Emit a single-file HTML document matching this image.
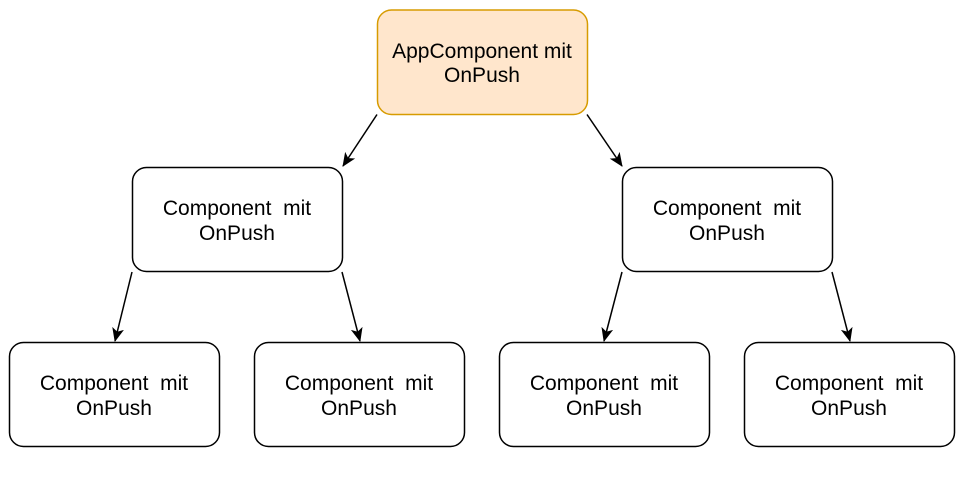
<!DOCTYPE html>
<html><head><meta charset="utf-8"><style>html,body{margin:0;padding:0;background:#fff}svg{display:block}text{white-space:pre}</style></head>
<body>
<svg width="965" height="492" viewBox="0 0 965 492" xmlns="http://www.w3.org/2000/svg" font-family="Liberation Sans, Arial, sans-serif" font-size="21" text-anchor="middle">
<defs><marker id="a" markerWidth="14" markerHeight="14" refX="13" refY="7" orient="auto" markerUnits="userSpaceOnUse" viewBox="0 0 14 14"><path d="M0,1 L14,7 L0,13 L3.5,7 z" fill="#000"/></marker></defs>
<g stroke="#000" stroke-width="1.5" fill="none">
<line x1="377" y1="114.5" x2="343" y2="166" marker-end="url(#a)"/>
<line x1="587" y1="114.5" x2="622" y2="166" marker-end="url(#a)"/>
<line x1="132" y1="272" x2="115" y2="341" marker-end="url(#a)"/>
<line x1="342" y1="272" x2="360" y2="341" marker-end="url(#a)"/>
<line x1="622" y1="272" x2="604" y2="341" marker-end="url(#a)"/>
<line x1="832" y1="272" x2="850" y2="341" marker-end="url(#a)"/>
</g>
<rect x="377.5" y="10" width="210" height="104.5" rx="14" fill="#ffe6cc" stroke="#d79b00" stroke-width="1.5"/>
<g fill="#fff" stroke="#000" stroke-width="1.5">
<rect x="132.5" y="167.5" width="210" height="104" rx="14"/>
<rect x="622.5" y="167.5" width="210" height="104" rx="14"/>
<rect x="9.5" y="342.5" width="210" height="104" rx="14"/>
<rect x="254.5" y="342.5" width="210" height="104" rx="14"/>
<rect x="499.5" y="342.5" width="210" height="104" rx="14"/>
<rect x="744.5" y="342.5" width="210" height="104" rx="14"/>
</g>
<g fill="#000">
<text x="482" y="58">AppComponent mit</text><text x="482" y="82">OnPush</text>
<text x="237" y="215">Component  mit</text><text x="237" y="240">OnPush</text>
<text x="727" y="215">Component  mit</text><text x="727" y="240">OnPush</text>
<text x="114" y="390">Component  mit</text><text x="114" y="415">OnPush</text>
<text x="359" y="390">Component  mit</text><text x="359" y="415">OnPush</text>
<text x="604" y="390">Component  mit</text><text x="604" y="415">OnPush</text>
<text x="849" y="390">Component  mit</text><text x="849" y="415">OnPush</text>
</g>
</svg>
</body></html>
